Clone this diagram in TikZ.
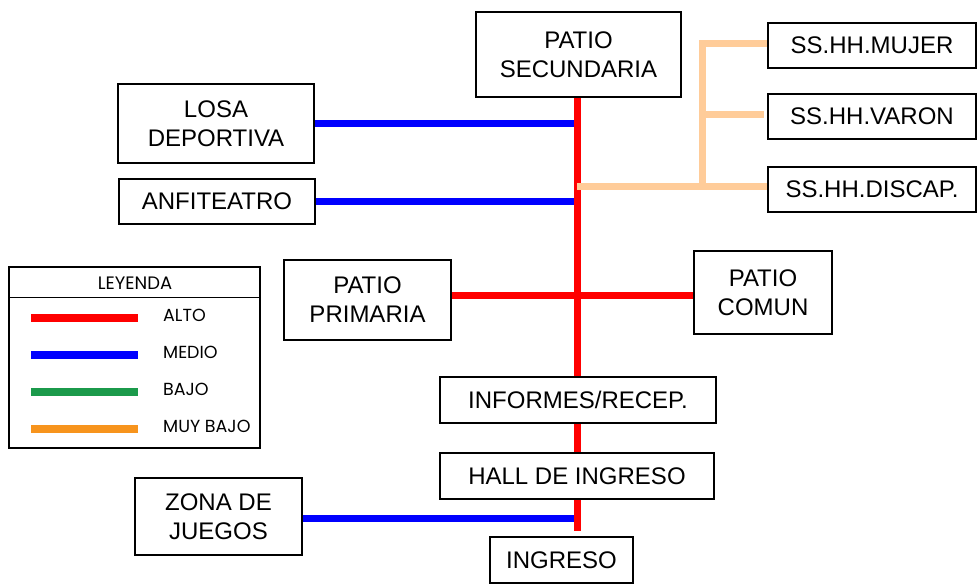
\documentclass[tikz,border=0pt]{standalone}
\usepackage{fontspec}
\setmainfont{Liberation Sans}
\newfontfamily\leyendafont{Poppins}
\usepackage{tikz}
\usetikzlibrary{positioning,backgrounds}

\definecolor{durazno}{HTML}{FFCC99}
\definecolor{verdebajo}{HTML}{1B9A4B}
\definecolor{naranja}{HTML}{F7941D}

\tikzset{
	caja/.style={draw, line width=2.5pt, fill=white, align=center, inner sep=0pt,
		font=\fontsize{24}{29}\selectfont},
	alto/.style={red, line width=7pt},
	medio/.style={blue, line width=7pt},
	muybajo/.style={durazno, line width=7pt},
}

\begin{document}
\begin{tikzpicture}[x=1pt, y=-1pt]
	\useasboundingbox (0,0) rectangle (977,584);
	
	% Ambientes
	\node[caja, minimum width=205, minimum height=85] (sec) at (578.5,54.5) {PATIO\\SECUNDARIA};
	\node[caja, minimum width=196, minimum height=79] (losa) at (216,123.5) {LOSA\\DEPORTIVA};
	\node[caja, minimum width=196, minimum height=45] (anfi) at (217,201.5) {ANFITEATRO};
	\node[caja, minimum width=208, minimum height=45] (mujer) at (872,45.5) {SS.HH.MUJER};
	\node[caja, minimum width=208, minimum height=45] (varon) at (872,116.5) {SS.HH.VARON};
	\node[caja, minimum width=208, minimum height=45] (discap) at (872,189.5) {SS.HH.DISCAP.};
	\node[caja, minimum width=167, minimum height=80] (pprim) at (367.5,300) {PATIO\\PRIMARIA};
	\node[caja, minimum width=138, minimum height=83] (pcomun) at (763,292.5) {PATIO\\COMUN};
	\node[caja, minimum width=276, minimum height=46] (inf) at (578,400) {INFORMES/RECEP.};
	\node[caja, minimum width=274, minimum height=46] (hall) at (577,476) {HALL DE INGRESO};
	\node[caja, minimum width=143, minimum height=46] (ingreso) at (561.5,560) {INGRESO};
	\node[caja, minimum width=167, minimum height=77] (zona) at (218.5,516.5) {ZONA DE\\JUEGOS};
	
	% Conexiones
	\coordinate (fin) at (577,531);
	\coordinate (cruce) at (577,295);
	\coordinate (ramal) at (702,186);
	\begin{pgfonlayer}{background}
		\draw[medio] (losa.east) -- (losa.east -| fin);
		\draw[medio] (anfi.east) -- (anfi.east -| fin);
		\draw[medio] (zona.east |- 0,518) -- (fin |- 0,518);
		\draw[alto] (sec.south -| fin) -- (fin);
		\draw[alto] (pprim.east |- cruce) -- (pcomun.west |- cruce);
		\draw[muybajo] (fin |- ramal) -- (discap.west |- ramal);
		\draw[muybajo] (ramal) -- (ramal |- 0,43) -- (mujer.west |- 0,43);
		\draw[muybajo] (ramal |- 0,114) -- ([xshift=-3pt]varon.west |- 0,114);
	\end{pgfonlayer}
	
	% Leyenda
	\begin{scope}[font=\leyendafont\fontsize{17.5}{20}\selectfont]
		\draw[line width=2pt] (9,267) rectangle (260,448);
		\draw[line width=1pt] (9,297) -- (260,297);
		\node[font=\leyendafont\fontsize{18}{20}\selectfont] (leytit) at (135,283) {LEYENDA};
		\foreach \y/\c/\t [count=\i] in {318/red/ALTO, 355/blue/MEDIO, 392/verdebajo/BAJO, 429/naranja/MUY BAJO}{
			\draw[\c, line width=8pt] (31,\y) -- (138,\y);
			\node[anchor=west, inner sep=0pt] (ley\i) at (163,\y-3) {\t};
		}
	\end{scope}
	
\end{tikzpicture}
\end{document}
